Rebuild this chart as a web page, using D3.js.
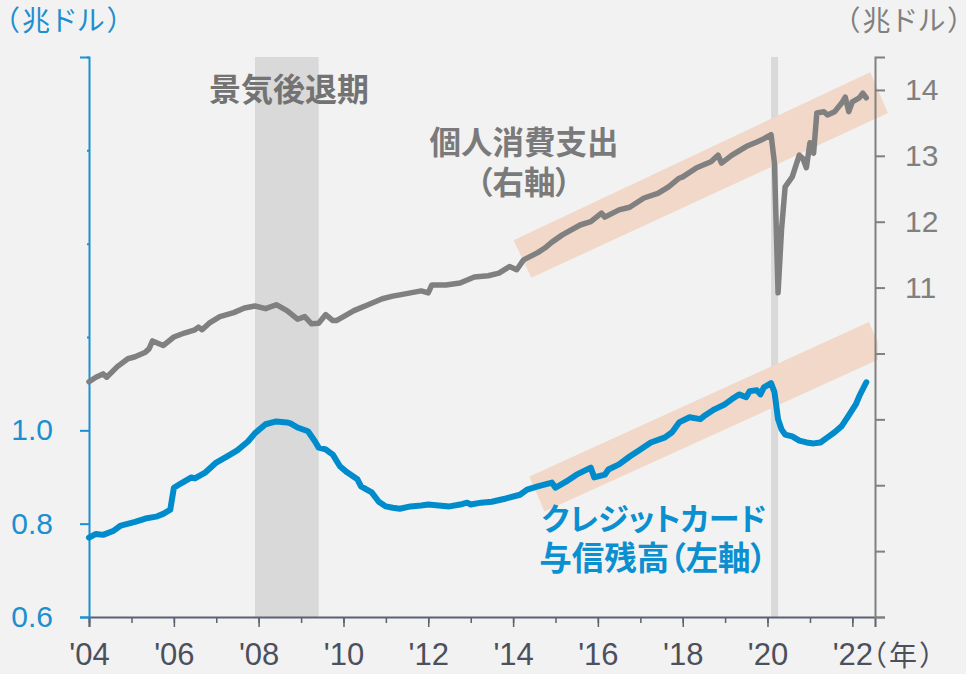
<!DOCTYPE html>
<html>
<head>
<meta charset="utf-8">
<script src="https://cdn.jsdelivr.net/npm/d3@7"></script>
<style>
  body { margin: 0; background: #f2f2f2; }
  svg text { font-family: "Liberation Sans", Arial, sans-serif; }
  svg .jp { font-family: "Noto Sans CJK JP", sans-serif; font-feature-settings: "palt"; }
</style>
</head>
<body>
<div id="chart"></div>
<script>
// 個人消費支出（右軸, 兆ドル）
const pceMonths = ["2004-01","2004-03","2004-05","2004-06","2004-09","2004-12","2005-02","2005-05","2005-06","2005-07","2005-10","2006-01","2006-04","2006-07","2006-08","2006-09","2006-11","2007-02","2007-06","2007-09","2007-12","2008-03","2008-06","2008-09","2008-12","2009-02","2009-04","2009-06","2009-08","2009-10","2009-11","2010-01","2010-04","2010-08","2010-12","2011-03","2011-05","2011-08","2011-11","2012-01","2012-02","2012-06","2012-10","2013-02","2013-06","2013-09","2013-12","2014-02","2014-04","2014-08","2014-10","2014-12","2015-03","2015-08","2015-11","2016-02","2016-03","2016-07","2016-10","2017-02","2017-06","2017-09","2017-12","2018-01","2018-05","2018-09","2018-11","2018-12","2019-03","2019-07","2019-10","2019-12","2020-02","2020-03","2020-04","2020-05","2020-06","2020-08","2020-10","2020-11","2020-12","2021-01","2021-02","2021-03","2021-05","2021-06","2021-08","2021-10","2021-11","2021-12","2022-01","2022-03","2022-04","2022-05"]
const pceValues = [9.57,9.64,9.69,9.64,9.80,9.92,9.95,10.02,10.07,10.19,10.12,10.25,10.31,10.36,10.40,10.36,10.46,10.56,10.62,10.69,10.72,10.68,10.74,10.65,10.52,10.56,10.45,10.46,10.59,10.50,10.50,10.56,10.65,10.74,10.83,10.87,10.89,10.92,10.95,10.92,11.04,11.04,11.07,11.16,11.18,11.22,11.32,11.27,11.42,11.53,11.60,11.69,11.80,11.95,12.00,12.13,12.07,12.18,12.22,12.36,12.43,12.53,12.66,12.68,12.82,12.91,13.01,12.89,13.01,13.14,13.21,13.26,13.32,12.89,10.92,11.88,12.53,12.68,13.01,12.96,12.82,13.20,13.04,13.65,13.67,13.62,13.67,13.80,13.89,13.67,13.82,13.88,13.95,13.88]

// クレジットカード与信残高（左軸, 兆ドル）
const cardMonths = ["2004-01","2004-03","2004-05","2004-08","2004-10","2005-02","2005-05","2005-08","2005-10","2005-12","2006-01","2006-03","2006-06","2006-07","2006-10","2007-01","2007-05","2007-07","2007-10","2007-12","2008-03","2008-06","2008-09","2008-10","2008-12","2009-03","2009-05","2009-06","2009-08","2009-10","2009-12","2010-02","2010-05","2010-06","2010-09","2010-11","2011-01","2011-03","2011-05","2011-08","2011-11","2012-01","2012-04","2012-07","2012-10","2012-12","2013-01","2013-04","2013-07","2013-11","2014-03","2014-05","2014-08","2014-12","2015-01","2015-04","2015-07","2015-11","2015-12","2016-03","2016-04","2016-07","2016-10","2017-01","2017-04","2017-08","2017-10","2017-12","2018-03","2018-06","2018-07","2018-10","2019-01","2019-03","2019-05","2019-07","2019-08","2019-10","2019-11","2019-12","2020-02","2020-03","2020-04","2020-05","2020-06","2020-08","2020-10","2020-12","2021-02","2021-04","2021-06","2021-08","2021-10","2021-12","2022-02","2022-03","2022-05"]
const cardValues = [0.770,0.778,0.776,0.785,0.796,0.804,0.811,0.815,0.821,0.830,0.877,0.886,0.899,0.897,0.910,0.931,0.948,0.957,0.976,0.994,1.013,1.019,1.017,1.015,1.006,0.998,0.976,0.963,0.959,0.948,0.923,0.910,0.895,0.880,0.867,0.847,0.837,0.834,0.832,0.837,0.839,0.841,0.839,0.837,0.841,0.845,0.841,0.845,0.847,0.854,0.862,0.873,0.880,0.888,0.877,0.890,0.905,0.920,0.899,0.905,0.916,0.927,0.944,0.959,0.974,0.985,0.996,1.017,1.028,1.024,1.030,1.045,1.056,1.067,1.077,1.071,1.084,1.086,1.077,1.092,1.101,1.082,1.024,1.002,0.991,0.987,0.978,0.974,0.972,0.974,0.985,0.996,1.009,1.032,1.056,1.073,1.103]

// 景気後退期
const recessionStart = ["2007-12", "2020-02"]
const recessionEnd = ["2009-06", "2020-04"]

// トレンドの帯（年, 値）
const pceBand = [[2014.01, 11.72], [2014.43, 11.15], [2022.84, 13.65], [2022.42, 14.27]]
const cardBand = [[2014.385, 0.901], [2014.74, 0.826], [2022.60, 1.151], [2022.60, 1.189], [2022.39, 1.232]]

const leftTicks = [0.6, 0.8, 1.0, 1.2, 1.4, 1.6, 1.8]
const leftLabeled = [0.6, 0.8, 1.0]
const rightTicks = [6, 7, 8, 9, 10, 11, 12, 13, 14]
const rightLabeled = [11, 12, 13, 14]
const xYears = d3.range(2004, 2023)

var width = 966
var height = 674
var margin = { top: 57, bottom: 57, left: 89, right: 92 }

const parse = d3.timeParse('%Y-%m')
const yearToDate = y => {
    const yr = Math.floor(y)
    const start = new Date(yr, 0, 1), end = new Date(yr + 1, 0, 1)
    return new Date(+start + (y - yr) * (end - start))
}

const svg = d3.select('#chart').append('svg').attr('width', width).attr('height', height)
svg.append('rect').attr('width', width).attr('height', height).attr('fill', '#f2f2f2')

const x = d3.scaleTime().domain([new Date(2004, 0, 1), new Date(2022, 6, 15)]).range([margin.left, width - margin.right + 1])
const yL = d3.scaleLinear().domain([0.6, 1.8]).range([height - margin.bottom, margin.top])
const yR = d3.scaleLinear().domain([6, 14.5]).range([height - margin.bottom, margin.top])

// 景気後退期の網掛け
svg.append('g').selectAll('rect').data(recessionStart).join('rect')
    .attr('x', d => x(parse(d)))
    .attr('width', (d, i) => x(parse(recessionEnd[i])) - x(parse(d)))
    .attr('y', margin.top)
    .attr('height', height - margin.bottom - margin.top)
    .attr('fill', '#d9d9d9')

// 帯
const bandLine = (pts, y) => pts.map(p => [x(yearToDate(p[0])), y(p[1])].join(',')).join(' ')
svg.append('polygon').attr('points', bandLine(pceBand, yR)).attr('fill', '#f2d8c8')
svg.append('polygon').attr('points', bandLine(cardBand, yL)).attr('fill', '#f2d8c8')

// x軸
const xAxisMinor = d3.axisBottom(x).tickValues(xYears.map(y => new Date(y, 0, 1))).tickSize(6).tickFormat('')
const xAxisMajor = d3.axisBottom(x).tickValues(xYears.filter(y => y % 2 == 0).map(y => new Date(y, 0, 1)))
    .tickSize(10).tickPadding(16).tickFormat(d => "'" + d3.timeFormat('%y')(d))
const gxMinor = svg.append('g').attr('transform', `translate(0,${height - margin.bottom})`).call(xAxisMinor)
gxMinor.select('.domain').remove()
gxMinor.selectAll('line').attr('stroke', '#5b6170').attr('stroke-width', 1.5)
const gx = svg.append('g').attr('transform', `translate(0,${height - margin.bottom})`).call(xAxisMajor)
gx.select('.domain').attr('stroke', '#5b6170').attr('stroke-width', 2)
gx.selectAll('line').attr('stroke', '#5b6170').attr('stroke-width', 1.5)
gx.selectAll('text').attr('font-size', 31).attr('fill', '#4b505c')
    .attr('font-family', '"Liberation Sans", Arial, sans-serif')
svg.append('text').attr('class', 'jp').attr('x', 872).attr('y', 666)
    .attr('font-size', 28).attr('letter-spacing', 3).attr('fill', '#4b505c').text('（年）')

// 左軸
const yAxisL = d3.axisLeft(yL).tickValues(leftTicks).tickSize(9).tickPadding(27)
    .tickFormat(d => leftLabeled.includes(d) ? d3.format('.1f')(d) : '')
const gl = svg.append('g').attr('transform', `translate(${margin.left},0)`).call(yAxisL)
gl.select('.domain').attr('stroke', '#1b8fd0').attr('stroke-width', 2)
gl.selectAll('.tick line').attr('stroke', '#1b8fd0').attr('stroke-width', 2)
    .attr('x2', d => leftLabeled.includes(d) ? -9 : -2)
gl.selectAll('text').attr('font-size', 30).attr('fill', '#1b8fd0')
    .attr('font-family', '"Liberation Sans", Arial, sans-serif')
svg.append('text').attr('class', 'jp').attr('x', 5).attr('y', 31)
    .attr('font-size', 28).attr('letter-spacing', 3).attr('fill', '#1b8fd0').text('（兆ドル）')

// 右軸
const yAxisR = d3.axisRight(yR).tickValues(rightTicks).tickSize(10).tickPadding(20)
    .tickFormat(d => rightLabeled.includes(d) ? d : '')
const gr = svg.append('g').attr('transform', `translate(${width - margin.right + 1},0)`).call(yAxisR)
gr.select('.domain').attr('stroke', '#808080').attr('stroke-width', 2)
gr.selectAll('.tick line').attr('stroke', '#808080').attr('stroke-width', 2)
gr.selectAll('text').attr('font-size', 30).attr('fill', '#808080')
    .attr('font-family', '"Liberation Sans", Arial, sans-serif')
svg.append('text').attr('class', 'jp').attr('x', 965).attr('y', 31).attr('text-anchor', 'end')
    .attr('font-size', 28).attr('letter-spacing', 3).attr('fill', '#808080').text('（兆ドル）')

// 線
const pceData = pceMonths.map((m, i) => ({ date: parse(m), value: pceValues[i] }))
const cardData = cardMonths.map((m, i) => ({ date: parse(m), value: cardValues[i] }))
const lineR = d3.line().x(d => x(d.date)).y(d => yR(d.value))
const lineL = d3.line().x(d => x(d.date)).y(d => yL(d.value))
svg.append('path').datum(pceData).attr('d', lineR).attr('fill', 'none')
    .attr('stroke', '#808080').attr('stroke-width', 5.5).attr('stroke-linejoin', 'round').attr('stroke-linecap', 'round')
svg.append('path').datum(cardData).attr('d', lineL).attr('fill', 'none')
    .attr('stroke', '#008ccc').attr('stroke-width', 6).attr('stroke-linejoin', 'round').attr('stroke-linecap', 'round')

// 注釈
svg.append('text').attr('class', 'jp').attr('x', 289).attr('y', 101).attr('text-anchor', 'middle')
    .attr('font-size', 32).attr('font-weight', 'bold').attr('fill', '#737373').text('景気後退期')

svg.append('text').attr('class', 'jp').attr('x', 524).attr('y', 154).attr('text-anchor', 'middle')
    .attr('font-size', 31.5).attr('font-weight', 'bold').attr('fill', '#7a7a7a').text('個人消費支出')
svg.append('text').attr('class', 'jp').attr('x', 524).attr('y', 194).attr('text-anchor', 'middle')
    .attr('font-size', 31.5).attr('font-weight', 'bold').attr('fill', '#7a7a7a').text('（右軸）')

svg.append('text').attr('class', 'jp').attr('x', 654).attr('y', 530).attr('text-anchor', 'middle')
    .attr('font-size', 31).attr('font-weight', 'bold').attr('fill', '#0a8fd0').text('クレジットカード')
svg.append('text').attr('class', 'jp').attr('x', 653).attr('y', 570).attr('text-anchor', 'middle')
    .attr('font-size', 32.5).attr('font-weight', 'bold').attr('fill', '#0a8fd0').text('与信残高（左軸）')
</script>
</body>
</html>
